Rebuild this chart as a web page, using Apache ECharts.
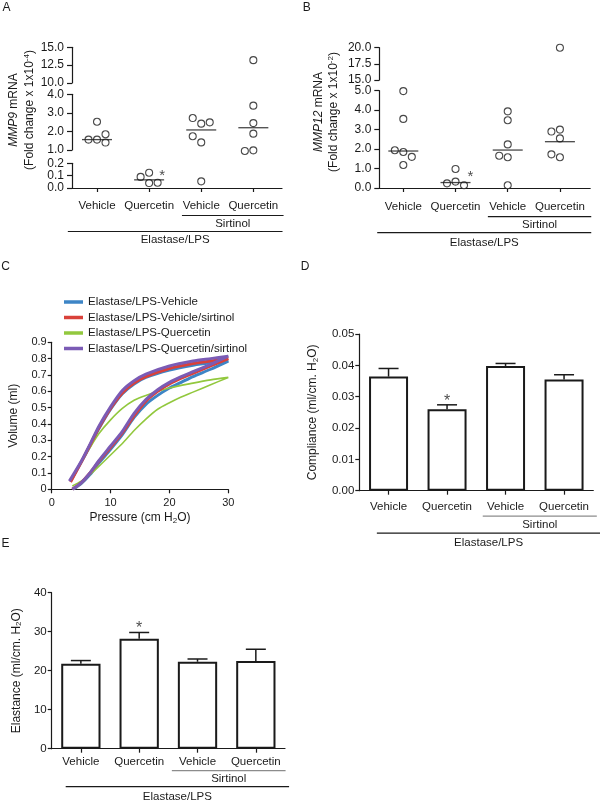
<!DOCTYPE html>
<html>
<head>
<meta charset="UTF-8">
<title>Elastase/LPS</title>
<script src="https://cdn.jsdelivr.net/npm/echarts@6/dist/echarts.min.js"></script>
<style>html,body{margin:0;padding:0;background:#fff;}</style>
</head>
<body>
<div id="fig" style="width:600px;height:804px;"></div>
<script>
// x groups of panels A, B, D, E
var groupNames = ['Vehicle', 'Quercetin', 'Vehicle', 'Quercetin'];

// A: MMP9 mRNA (fold change x 1x10^-4), one list per group
var mmp9 = [
    [2.52, 1.56, 1.56, 1.85, 1.40],
    [0.040, 0.090, 0.124, 0.043],
    [2.42, 2.72, 2.49, 1.41, 1.74, 0.054],
    [13.2, 3.39, 2.45, 1.88, 0.98, 0.95]
];
var mmp9Median = [1.56, 0.066, 2.08, 2.20];

// B: MMP12 mRNA (fold change x 1x10^-2)
var mmp12 = [
    [4.98, 3.55, 1.85, 1.94, 1.60, 1.18],
    [0.98, 0.33, 0.24, 0.14],
    [3.94, 3.48, 2.24, 1.58, 1.66, 0.14],
    [20.0, 3.00, 2.55, 2.90, 1.58, 1.73]
];
var mmp12Median = [1.90, 0.28, 1.95, 2.38];

var significant = [false, true, false, false];

// C: pressure (cm H2O) / volume (ml) loops, inflation then deflation
var pvVehicle = [[3.6,0],[5,0.035],[6.5,0.09],[8,0.16],[10,0.245],[12,0.335],[14,0.44],[16,0.52],[18,0.575],[20,0.62],[22,0.655],[24,0.69],[27,0.735],[30,0.785],
    [27,0.775],[24,0.76],[20,0.73],[16,0.685],[14,0.645],[12,0.585],[10,0.49],[8,0.37],[6.5,0.265],[5,0.165],[3.2,0.05]];
var pvVehicleSirtinol = [[3.5,0],[5,0.04],[6.5,0.1],[8,0.17],[10,0.255],[12,0.345],[14,0.45],[16,0.54],[18,0.6],[20,0.645],[22,0.68],[24,0.71],[27,0.755],[30,0.8],
    [27,0.785],[24,0.77],[20,0.74],[16,0.69],[14,0.65],[12,0.59],[10,0.495],[8,0.375],[6.5,0.27],[5,0.165],[3.2,0.045]];
var pvQuercetin = [[3.5,0.02],[5,0.05],[6.5,0.09],[8,0.14],[10,0.21],[12,0.28],[14,0.36],[16,0.43],[18,0.49],[20,0.53],[22,0.565],[24,0.595],[27,0.64],[30,0.685],
    [27,0.67],[24,0.65],[20,0.62],[16,0.575],[14,0.545],[12,0.495],[10,0.425],[8,0.34],[6.5,0.255],[5,0.165],[3.3,0.05]];
var pvQuercetinSirtinol = [[3.5,0],[5,0.04],[6.5,0.1],[8,0.175],[10,0.265],[12,0.355],[14,0.465],[16,0.55],[18,0.61],[20,0.655],[22,0.69],[24,0.72],[27,0.765],[30,0.815],
    [27,0.8],[24,0.785],[20,0.755],[16,0.705],[14,0.665],[12,0.605],[10,0.505],[8,0.385],[6.5,0.275],[5,0.17],[3,0.05]];

// D: compliance (ml/cm H2O), mean and SEM
var complianceMean = [0.0364, 0.0260, 0.0398, 0.0355];
var complianceSem = [0.0026, 0.0014, 0.0008, 0.0015];

// E: elastance
var elastanceMean = [21.8, 28.2, 22.3, 22.5];
var elastanceSem = [0.8, 1.6, 0.7, 3.0];

var FONT = 'Liberation Sans, Arial, sans-serif';
var INK = '#1a1a1a';
var GREY = '#8c8c8c';

var rich = {
    n: {fontSize: 12, fontFamily: FONT, color: INK, lineHeight: 14},
    it: {fontSize: 12, fontFamily: FONT, color: INK, fontStyle: 'italic', lineHeight: 14},
    sub: {fontSize: 8, fontFamily: FONT, color: INK, verticalAlign: 'bottom', lineHeight: 8},
    sup: {fontSize: 8, fontFamily: FONT, color: INK, verticalAlign: 'top', lineHeight: 8}
};

// broken y axes of A and B (bottom segment first)
var segA = [
    {min: 0, max: 0.2, interval: 0.1, top: 163.3, bottom: 188},
    {min: 1, max: 4, interval: 1, top: 94.3, bottom: 150},
    {min: 10, max: 15, interval: 2.5, top: 47.3, bottom: 83}
];
var segB = [
    {min: 0, max: 5, interval: 1, top: 90.7, bottom: 188},
    {min: 15, max: 20, interval: 2.5, top: 47.7, bottom: 80}
];
var boxA = {left: 72, width: 210, xmin: -0.48, xmax: 3.55, labelMargin: 11.5};
var boxB = {left: 379.3, width: 210.9, xmin: -0.46, xmax: 3.58, labelMargin: 12.5};

var lineAx = {show: true, onZero: false, lineStyle: {color: INK, width: 1.2}};
function tickAx(len, extra) {
    var t = {show: true, length: len, lineStyle: {color: INK, width: 1.2}};
    for (var k in extra) t[k] = extra[k];
    return t;
}
function lab(size, margin, fmt) {
    var l = {color: INK, fontFamily: FONT, fontSize: size, margin: margin};
    if (fmt) l.formatter = fmt;
    return l;
}
function fixed(n) { return function (v) { return Number(v).toFixed(n); }; }

var grids = [], xAxes = [], yAxes = [];

function addDotPanel(segs, box) {
    var base = grids.length;
    segs.forEach(function (s, i) {
        grids.push({left: box.left, width: box.width, top: s.top, height: s.bottom - s.top, outerBoundsMode: 'none'});
        var gi = base + i;
        var xa = {type: 'value', gridIndex: gi, min: box.xmin, max: box.xmax, splitLine: {show: false}};
        if (i === 0) {
            xa.axisLine = lineAx;
            xa.axisTick = tickAx(4, {customValues: [0, 1, 2, 3]});
            xa.axisLabel = lab(11.5, box.labelMargin, function (v) { return groupNames[Math.round(v)]; });
            xa.axisLabel.customValues = [0, 1, 2, 3];
        } else {
            xa.show = false;
        }
        xAxes.push(xa);
        yAxes.push({type: 'value', gridIndex: gi, min: s.min, max: s.max, interval: s.interval,
            axisLine: lineAx, axisTick: tickAx(5), splitLine: {show: false},
            axisLabel: lab(12, 8, fixed(1))});
    });
    return base;
}

var baseA = addDotPanel(segA, boxA);
var baseB = addDotPanel(segB, boxB);

// C
var gC = grids.length;
grids.push({left: 51.7, width: 176.6, top: 342.3, height: 147, outerBoundsMode: 'none'});
xAxes.push({type: 'value', gridIndex: gC, min: 0, max: 30, interval: 10, axisLine: lineAx, axisTick: tickAx(4),
    splitLine: {show: false}, axisLabel: lab(11, 8),
    name: '{n|Pressure (cm H}{sub|2}{n|O)}', nameLocation: 'middle', nameGap: 21,
    nameTextStyle: {rich: rich}});
yAxes.push({type: 'value', gridIndex: gC, min: 0, max: 0.9, interval: 0.1, axisLine: lineAx, axisTick: tickAx(4),
    splitLine: {show: false}, axisLabel: lab(11, 5),
    name: '{n|Volume (ml)}', nameLocation: 'middle', nameGap: 31, nameTextStyle: {rich: rich}});

// D and E bars
function addBarPanel(g, y, yName, nameGap, labelMargin, tickFmt) {
    var i = grids.length;
    grids.push({left: g.left, width: g.width, top: g.top, height: g.height, outerBoundsMode: 'none'});
    var xl = lab(11.5, labelMargin);
    xl.interval = 0;
    xAxes.push({type: 'category', gridIndex: i, data: groupNames, axisLine: lineAx,
        axisTick: tickAx(4, {alignWithLabel: true}), axisLabel: xl});
    yAxes.push({type: 'value', gridIndex: i, min: y.min, max: y.max, interval: y.interval, axisLine: lineAx,
        axisTick: tickAx(4), splitLine: {show: false}, axisLabel: lab(11.5, 5, tickFmt),
        name: yName, nameLocation: 'middle', nameGap: nameGap, nameTextStyle: {rich: rich}});
    return i;
}
var gD = addBarPanel({left: 359.3, width: 234, top: 334, height: 156.7}, {min: 0, max: 0.05, interval: 0.01},
    '{n|Compliance (ml/cm. H}{sub|2}{n|O)}', 40, 10, fixed(2));
var gE = addBarPanel({left: 51.7, width: 233.3, top: 592.7, height: 156}, {min: 0, max: 40, interval: 10},
    '{n|Elastance (ml/cm. H}{sub|2}{n|O)}', 28.5, 7.5, null);

var chart = echarts.init(document.getElementById('fig'), null, {renderer: 'canvas'});
chart.setOption({
    animation: false,
    textStyle: {fontFamily: FONT},
    grid: grids,
    xAxis: xAxes,
    yAxis: yAxes,
    series: []
});

// ----- dot plots with a simple swarm layout -----
var DOT = 7, STEP = 8.5;
function segIndex(segs, v) {
    var best = 0, bestD = Infinity;
    segs.forEach(function (s, i) {
        var d = v < s.min ? s.min - v : (v > s.max ? v - s.max : 0);
        if (d < bestD) { bestD = d; best = i; }
    });
    return best;
}
function dotSeries(groups, medians, segs, base, starOffset) {
    var unit = chart.convertToPixel({xAxisIndex: base}, 1) - chart.convertToPixel({xAxisIndex: base}, 0);
    var pts = segs.map(function () { return []; });
    var meds = segs.map(function () { return []; });
    var stars = segs.map(function () { return []; });
    groups.forEach(function (vals, g) {
        var placed = [];
        vals.forEach(function (v) {
            var si = segIndex(segs, v);
            var py = chart.convertToPixel({yAxisIndex: base + si}, v);
            var tries = [0, -1, 1, -2, 2, -3, 3], dx = 0;
            for (var k = 0; k < tries.length; k++) {
                dx = tries[k] * STEP;
                var hit = placed.some(function (p) { return Math.hypot(p.dx - dx, p.py - py) < DOT; });
                if (!hit) break;
            }
            placed.push({dx: dx, py: py});
            pts[si].push([g + dx / unit, v]);
        });
        meds[segIndex(segs, medians[g])].push([g, medians[g]]);
        if (significant[g]) {
            var top = Math.max.apply(null, vals);
            stars[segIndex(segs, top)].push([g, top]);
        }
    });
    var out = [];
    segs.forEach(function (s, si) {
        out.push({type: 'scatter', xAxisIndex: base + si, yAxisIndex: base + si, data: pts[si], clip: false,
            symbol: 'circle', symbolSize: DOT, z: 3,
            itemStyle: {color: '#fff', borderColor: INK, borderWidth: 1.1}});
        out.push({type: 'scatter', xAxisIndex: base + si, yAxisIndex: base + si, data: meds[si], clip: false,
            symbol: 'rect', symbolSize: [30, 1.3], z: 4, itemStyle: {color: INK}});
        if (stars[si].length) {
            out.push({type: 'scatter', xAxisIndex: base + si, yAxisIndex: base + si, data: stars[si], clip: false,
                symbolSize: 1, itemStyle: {color: 'transparent'}, z: 5,
                label: {show: true, position: 'inside', offset: starOffset, formatter: '*',
                    fontSize: 15, color: INK, fontFamily: FONT}});
        }
    });
    return out;
}

function errorBar(params, api) {
    var x = api.value(0);
    var b = api.coord([x, api.value(1)]);
    var t = api.coord([x, api.value(2)]);
    var st = {stroke: INK, lineWidth: 1.5};
    return {type: 'group', children: [
        {type: 'line', shape: {x1: b[0], y1: b[1], x2: t[0], y2: t[1]}, style: st},
        {type: 'line', shape: {x1: t[0] - 10, y1: t[1], x2: t[0] + 10, y2: t[1]}, style: st}
    ]};
}
function barSeries(gi, means, sems, barWidth) {
    var tops = means.map(function (m, i) { return [i, m, m + sems[i]]; });
    return [
        {type: 'bar', xAxisIndex: gi, yAxisIndex: gi, data: means, barWidth: barWidth,
            itemStyle: {color: '#fff', borderColor: INK, borderWidth: 2}},
        {type: 'custom', xAxisIndex: gi, yAxisIndex: gi, data: tops, renderItem: errorBar, z: 3},
        {type: 'scatter', xAxisIndex: gi, yAxisIndex: gi, symbolSize: 1, itemStyle: {color: 'transparent'}, z: 5,
            data: tops.filter(function (d, i) { return significant[i]; }).map(function (d) { return [d[0], d[2]]; }),
            label: {show: true, position: 'inside', offset: [0, -3.5], formatter: '*', fontSize: 16, color: INK, fontFamily: FONT}}
    ];
}

var pvColors = ['#3d85c6', '#d9413a', '#92c83e', '#7b5bb5'];
var pvNames = ['Elastase/LPS-Vehicle', 'Elastase/LPS-Vehicle/sirtinol', 'Elastase/LPS-Quercetin', 'Elastase/LPS-Quercetin/sirtinol'];
var pvData = [pvVehicle, pvVehicleSirtinol, pvQuercetin, pvQuercetinSirtinol];
var pvWidth = [3, 3, 1.6, 3];
var drawOrder = [0, 2, 1, 3];
var pvSeries = drawOrder.map(function (k) {
    return {type: 'line', name: pvNames[k], xAxisIndex: gC, yAxisIndex: gC, data: pvData[k], smooth: 0.25,
        showSymbol: false, color: pvColors[k], lineStyle: {color: pvColors[k], width: pvWidth[k]}};
});

var series = []
    .concat(dotSeries(mmp9, mmp9Median, segA, baseA, [13, 3.5]))
    .concat(dotSeries(mmp12, mmp12Median, segB, baseB, [15, 7.5]))
    .concat(pvSeries)
    .concat(barSeries(gD, complianceMean, complianceSem, 39))
    .concat(barSeries(gE, elastanceMean, elastanceSem, 39.3));

// ----- group brackets, panel letters, broken-axis titles -----
function xPix(axis, v) {
    var p0 = chart.convertToPixel({xAxisIndex: axis}, 0), p1 = chart.convertToPixel({xAxisIndex: axis}, 1);
    return p0 + (p1 - p0) * v;
}
function txt(x, y, text, size, extra) {
    var g = {type: 'text', x: x, y: y, silent: true,
        style: {text: text, fill: INK, fontFamily: FONT, fontSize: size, align: 'center', verticalAlign: 'middle'}};
    for (var k in extra) g[k] = extra[k];
    return g;
}
var graphics = [];
function brackets(axis, spec) {
    var y0 = chart.convertToPixel({yAxisIndex: axis}, 0);
    spec.forEach(function (b) {
        var x1 = xPix(axis, b.from), x2 = xPix(axis, b.to);
        graphics.push({type: 'line', silent: true, shape: {x1: x1, y1: y0 + b.line, x2: x2, y2: y0 + b.line},
            style: {stroke: b.color, lineWidth: 1.2}});
        graphics.push(txt((x1 + x2) / 2, y0 + b.text, b.label, 11.5));
    });
}
brackets(baseA, [{from: 1.63, to: 3.58, line: 27.5, text: 35.5, label: 'Sirtinol', color: INK},
    {from: -0.56, to: 3.56, line: 43.5, text: 52, label: 'Elastase/LPS', color: INK}]);
brackets(baseB, [{from: 1.62, to: 3.6, line: 28.7, text: 37, label: 'Sirtinol', color: INK},
    {from: -0.5, to: 3.6, line: 44.7, text: 54.7, label: 'Elastase/LPS', color: INK}]);
brackets(gD, [{from: 1.61, to: 3.56, line: 25.5, text: 34.5, label: 'Sirtinol', color: GREY},
    {from: -0.2, to: 3.62, line: 42.5, text: 52, label: 'Elastase/LPS', color: INK}]);
brackets(gE, [{from: 1.56, to: 3.51, line: 22, text: 30, label: 'Sirtinol', color: GREY},
    {from: -0.26, to: 3.57, line: 38, text: 48, label: 'Elastase/LPS', color: INK}]);

[['A', 6.5, 7.5], ['B', 306.7, 7.5], ['C', 5.5, 267], ['D', 305, 267], ['E', 5.5, 544]].forEach(function (p) {
    graphics.push(txt(p[1], p[2], p[0], 12));
});

var rot = {rotation: Math.PI / 2};
function richTxt(x, y, text) {
    var g = txt(x, y, text, 12, rot);
    g.style.rich = rich;
    return g;
}
graphics.push(richTxt(13.3, 110, '{it|MMP9}{n| mRNA}'));
graphics.push(richTxt(30, 110, '{n|(Fold change x 1x10}{sup|-4}{n|)}'));
graphics.push(richTxt(319, 112, '{it|MMP12}{n| mRNA}'));
graphics.push(richTxt(333.3, 112, '{n|(Fold change x 1x10}{sup|-2}{n|)}'));

chart.setOption({
    legend: {data: pvNames, orient: 'vertical', left: 59, top: 290, icon: 'rect', itemWidth: 19, itemHeight: 3.5,
        itemGap: 1.5, selectedMode: false, textStyle: {color: INK, fontFamily: FONT, fontSize: 11.5, lineHeight: 14}},
    series: series,
    graphic: graphics
});
</script>
</body>
</html>
